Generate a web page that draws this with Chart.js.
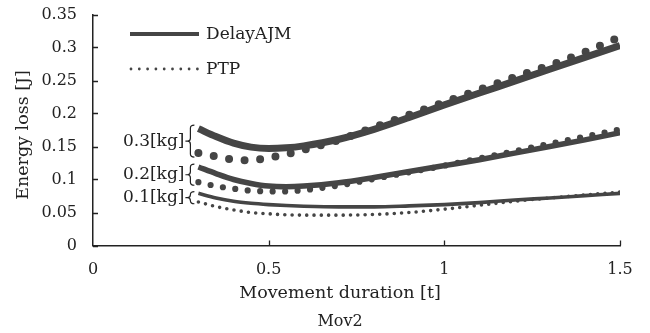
<!DOCTYPE html>
<html>
<head>
<meta charset="utf-8">
<script src="https://cdn.jsdelivr.net/npm/chart.js@4.4.1/dist/chart.umd.min.js"></script>
<style>
  html, body { margin: 0; padding: 0; background: #fff; }
  canvas { display: block; }
</style>
</head>
<body>
<canvas id="myChart" width="650" height="333"></canvas>
<script>
// valeurs (Mov2)
const xLine = [0.3, 0.35, 0.4, 0.45, 0.5, 0.55, 0.6, 0.7, 0.8, 0.9, 1.0, 1.1, 1.2, 1.3, 1.4, 1.5];

const ajm01 = [0.079, 0.072, 0.067, 0.064, 0.062, 0.0605, 0.0595, 0.0585, 0.0585, 0.060, 0.062, 0.065, 0.069, 0.072, 0.0755, 0.079];
const ptp01 = [0.066, 0.059, 0.054, 0.050, 0.048, 0.0465, 0.046, 0.046, 0.047, 0.050, 0.055, 0.061, 0.067, 0.072, 0.0765, 0.081];
const ajm02 = [0.119, 0.109, 0.100, 0.094, 0.090, 0.089, 0.090, 0.095, 0.103, 0.112, 0.121, 0.130, 0.140, 0.150, 0.160, 0.171];
const ptp02 = [0.096, 0.090, 0.086, 0.083, 0.082, 0.082, 0.084, 0.091, 0.101, 0.111, 0.121, 0.132, 0.143, 0.154, 0.165, 0.176];
const ajm03 = [0.177, 0.165, 0.155, 0.149, 0.147, 0.148, 0.151, 0.161, 0.176, 0.194, 0.213, 0.231, 0.249, 0.267, 0.285, 0.303];
const ptp03 = [0.140, 0.135, 0.130, 0.129, 0.133, 0.138, 0.145, 0.160, 0.179, 0.198, 0.217, 0.236, 0.255, 0.273, 0.293, 0.316];

const yTicks = [0, 0.05, 0.1, 0.15, 0.2, 0.25, 0.3, 0.35];
const yTickLabels = ['0', '0.05', '0.1', '0.15', '0.2', '0.25', '0.3', '0.35'];
const xTicks = [0, 0.5, 1, 1.5];
const xTickLabels = ['0', '0.5', '1', '1.5'];

const massLabels = ['0.1[kg]', '0.2[kg]', '0.3[kg]'];
const legendNames = ['DelayAJM', 'PTP'];
const xTitle = 'Movement duration [t]';
const yTitle = 'Energy loss [J]';
const caption = 'Mov2';

// styles
const serif = "'DejaVu Serif', serif";
const ink = '#222';
const lineColor = '#454545';
const widths = [3.6, 5.5, 7];       // épaisseur par masse 0.1 / 0.2 / 0.3
const dotWidths = [3.6, 6.2, 8];
const dotGaps = [7.3, 12.5, 15.6];

function pts(ys) {
    return xLine.map((x, i) => ({x: x, y: ys[i]}));
}

const ajm = [ajm01, ajm02, ajm03];
const ptp = [ptp01, ptp02, ptp03];

const datasets = [];
for (let i = 0; i < 3; i++) {
    datasets.push({
        label: legendNames[0] + ' ' + massLabels[i],
        data: pts(ajm[i]),
        borderColor: lineColor,
        borderWidth: widths[i],
        pointRadius: 0,
        cubicInterpolationMode: 'monotone',
        borderCapStyle: 'butt'
    });
    datasets.push({
        label: legendNames[1] + ' ' + massLabels[i],
        data: pts(ptp[i]),
        borderColor: lineColor,
        borderWidth: dotWidths[i],
        borderDash: [0, dotGaps[i]],
        borderCapStyle: 'round',
        pointRadius: 0,
        cubicInterpolationMode: 'monotone'
    });
}

// ticks intérieurs, accolades, étiquettes de masse, titre Y et légende
const decorations = {
    id: 'decorations',
    afterDraw(chart) {
        const {ctx, chartArea, scales: {x, y}} = chart;
        ctx.save();
        ctx.strokeStyle = ink;
        ctx.lineWidth = 1.3;
        ctx.beginPath();
        yTicks.forEach(v => {
            const py = Math.round(y.getPixelForValue(v)) + 0.5;
            ctx.moveTo(chartArea.left, py);
            ctx.lineTo(chartArea.left + 5, py);
        });
        xTicks.slice(1).forEach(v => {
            const px = Math.round(x.getPixelForValue(v)) + 0.5;
            ctx.moveTo(px, chartArea.bottom);
            ctx.lineTo(px, chartArea.bottom - 5);
        });
        ctx.stroke();

        // titre de l'axe Y
        ctx.fillStyle = ink;
        ctx.save();
        ctx.translate(23, 135);
        ctx.rotate(-Math.PI / 2);
        ctx.font = '17.5px ' + serif;
        ctx.textAlign = 'center';
        ctx.textBaseline = 'middle';
        ctx.fillText(yTitle, 0, 0);
        ctx.restore();

        // accolades
        const xs = x.getPixelForValue(xLine[0]);
        const xe = xs - 4, xb = xs - 8, xt = xs - 13;
        ctx.font = '17px ' + serif;
        ctx.textAlign = 'right';
        ctx.textBaseline = 'middle';
        ctx.lineWidth = 1.2;
        for (let i = 0; i < 3; i++) {
            const top = y.getPixelForValue(ajm[i][0]) - widths[i] / 2;
            const bot = y.getPixelForValue(ptp[i][0]) + dotWidths[i] / 2;
            const mid = (top + bot) / 2;
            const r = Math.min(3, (bot - top) / 4);
            ctx.beginPath();
            ctx.moveTo(xe, top);
            ctx.quadraticCurveTo(xb, top, xb, top + r);
            ctx.lineTo(xb, mid - r);
            ctx.quadraticCurveTo(xb, mid, xt + 2, mid);
            ctx.lineTo(xt, mid);
            ctx.moveTo(xt + 2, mid);
            ctx.quadraticCurveTo(xb, mid, xb, mid + r);
            ctx.lineTo(xb, bot - r);
            ctx.quadraticCurveTo(xb, bot, xe, bot);
            ctx.stroke();
            ctx.fillText(massLabels[i], xt - 1, mid);
        }

        // légende
        ctx.textAlign = 'left';
        ctx.font = '17px ' + serif;
        ctx.strokeStyle = lineColor;
        ctx.lineWidth = 4;
        ctx.lineCap = 'butt';
        ctx.beginPath();
        ctx.moveTo(130, 34);
        ctx.lineTo(199, 34);
        ctx.stroke();
        ctx.fillText(legendNames[0], 206, 35);

        ctx.lineWidth = 2.8;
        ctx.lineCap = 'round';
        ctx.setLineDash([0, 8.3]);
        ctx.beginPath();
        ctx.moveTo(131, 69);
        ctx.lineTo(198, 69);
        ctx.stroke();
        ctx.setLineDash([]);
        ctx.fillText(legendNames[1], 206, 70);
        ctx.restore();
    }
};

const ctx = document.getElementById('myChart').getContext('2d');
const myChart = new Chart(ctx, {
    type: 'line',
    data: {datasets: datasets},
    plugins: [decorations],
    options: {
        responsive: false,
        animation: false,
        devicePixelRatio: 1,
        layout: {padding: {left: 30, right: 0, top: 14.5, bottom: 1.3}},
        plugins: {
            legend: {display: false},
            tooltip: {enabled: false},
            subtitle: {
                display: true,
                position: 'bottom',
                text: xTitle,
                color: ink,
                font: {family: serif, size: 17.5, weight: 'normal'},
                padding: {top: 4, bottom: 0}
            },
            title: {
                display: true,
                position: 'bottom',
                text: caption,
                color: ink,
                font: {family: serif, size: 16, weight: 'normal'},
                padding: {top: 9, bottom: 0}
            }
        },
        scales: {
            x: {
                type: 'linear',
                min: 0,
                max: 1.5,
                afterBuildTicks: s => { s.ticks = xTicks.map(v => ({value: v})); },
                afterFit: s => { s.height = 33; s.paddingLeft = 0; s.paddingRight = 30; },
                grid: {display: false, drawTicks: false},
                border: {display: true, color: ink, width: 1.5},
                ticks: {
                    color: ink,
                    padding: 15,
                    maxRotation: 0,
                    font: {family: serif, size: 16},
                    callback: (v, i) => xTickLabels[i]
                }
            },
            y: {
                min: 0,
                max: 0.35,
                afterBuildTicks: s => { s.ticks = yTicks.map(v => ({value: v})); },
                afterFit: s => { s.width = 63; s.paddingTop = 0; s.paddingBottom = 0; },
                grid: {display: false, drawTicks: false},
                border: {display: true, color: ink, width: 1.5},
                ticks: {
                    color: ink,
                    padding: 16,
                    font: {family: serif, size: 16},
                    callback: (v, i) => yTickLabels[i]
                }
            }
        }
    }
});
</script>
</body>
</html>
